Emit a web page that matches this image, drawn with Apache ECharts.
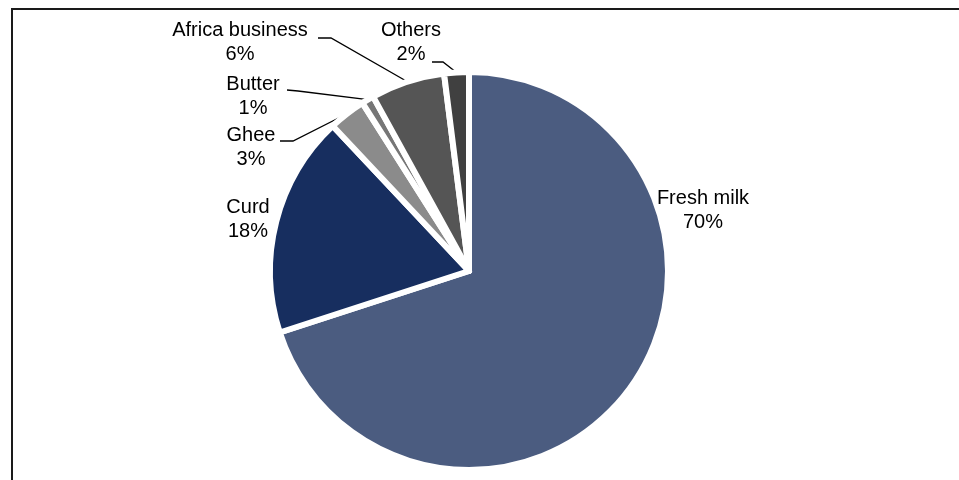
<!DOCTYPE html>
<html>
<head>
<meta charset="utf-8">
<script src="https://cdn.jsdelivr.net/npm/echarts@6/dist/echarts.min.js"></script>
<style>
html,body{margin:0;padding:0;background:#fff;}
#chart{width:959px;height:480px;}
</style>
</head>
<body>
<div id="chart"></div>
<script>
// ---- data ----
const categories = ['Fresh milk', 'Curd', 'Ghee', 'Butter', 'Africa business', 'Others'];
const shares = [70, 18, 3, 1, 6, 2];

// ---- styles ----
const colors = ['#4b5c80', '#172e5f', '#8b8b8b', '#767676', '#555555', '#404040'];
// label block centre and leader-line elbow/end (screen styling)
const labelSpots = [
  { x: 703, y: 210, line: null },
  { x: 248, y: 219, line: null },
  { x: 251, y: 147, line: [[293, 141], [280, 141]] },
  { x: 253, y: 96,  line: [[298, 91], [287, 90]] },
  { x: 240, y: 42,  line: [[331, 38], [318, 38]] },
  { x: 411, y: 42,  line: [[443, 62], [432, 62]] }
];

const chart = echarts.init(document.getElementById('chart'), null, { renderer: 'canvas' });
const data = categories.map((c, i) => ({
  name: c,
  value: shares[i],
  itemStyle: { color: colors[i] },
  labelLine: { show: !!labelSpots[i].line }
}));

chart.setOption({
  animation: false,
  graphic: [{
    type: 'rect',
    shape: { x: 12, y: 9, width: 1200, height: 800 },
    style: { fill: 'none', stroke: '#1a1a1a', lineWidth: 2 },
    silent: true
  }],
  series: [{
    type: 'pie',
    center: [469, 271],
    radius: 199,
    startAngle: 90,
    clockwise: true,
    avoidLabelOverlap: false,
    itemStyle: { borderColor: '#ffffff', borderWidth: 6 },
    label: {
      show: true,
      position: 'outside',
      formatter: '{b}\n{d}%',
      fontFamily: 'Liberation Sans, Arial, sans-serif',
      fontSize: 20,
      lineHeight: 24,
      color: '#000',
      align: 'center'
    },
    labelLine: {
      show: true,
      length: 10,
      length2: 10,
      smooth: false,
      lineStyle: { color: '#000', width: 1.3 }
    },
    labelLayout: function (params) {
      const s = labelSpots[params.dataIndex];
      const out = { x: s.x, y: s.y, align: 'center', verticalAlign: 'middle' };
      if (s.line && params.labelLinePoints) {
        out.labelLinePoints = [params.labelLinePoints[0], s.line[0], s.line[1]];
      }
      return out;
    },
    data: data
  }]
});
</script>
</body>
</html>
